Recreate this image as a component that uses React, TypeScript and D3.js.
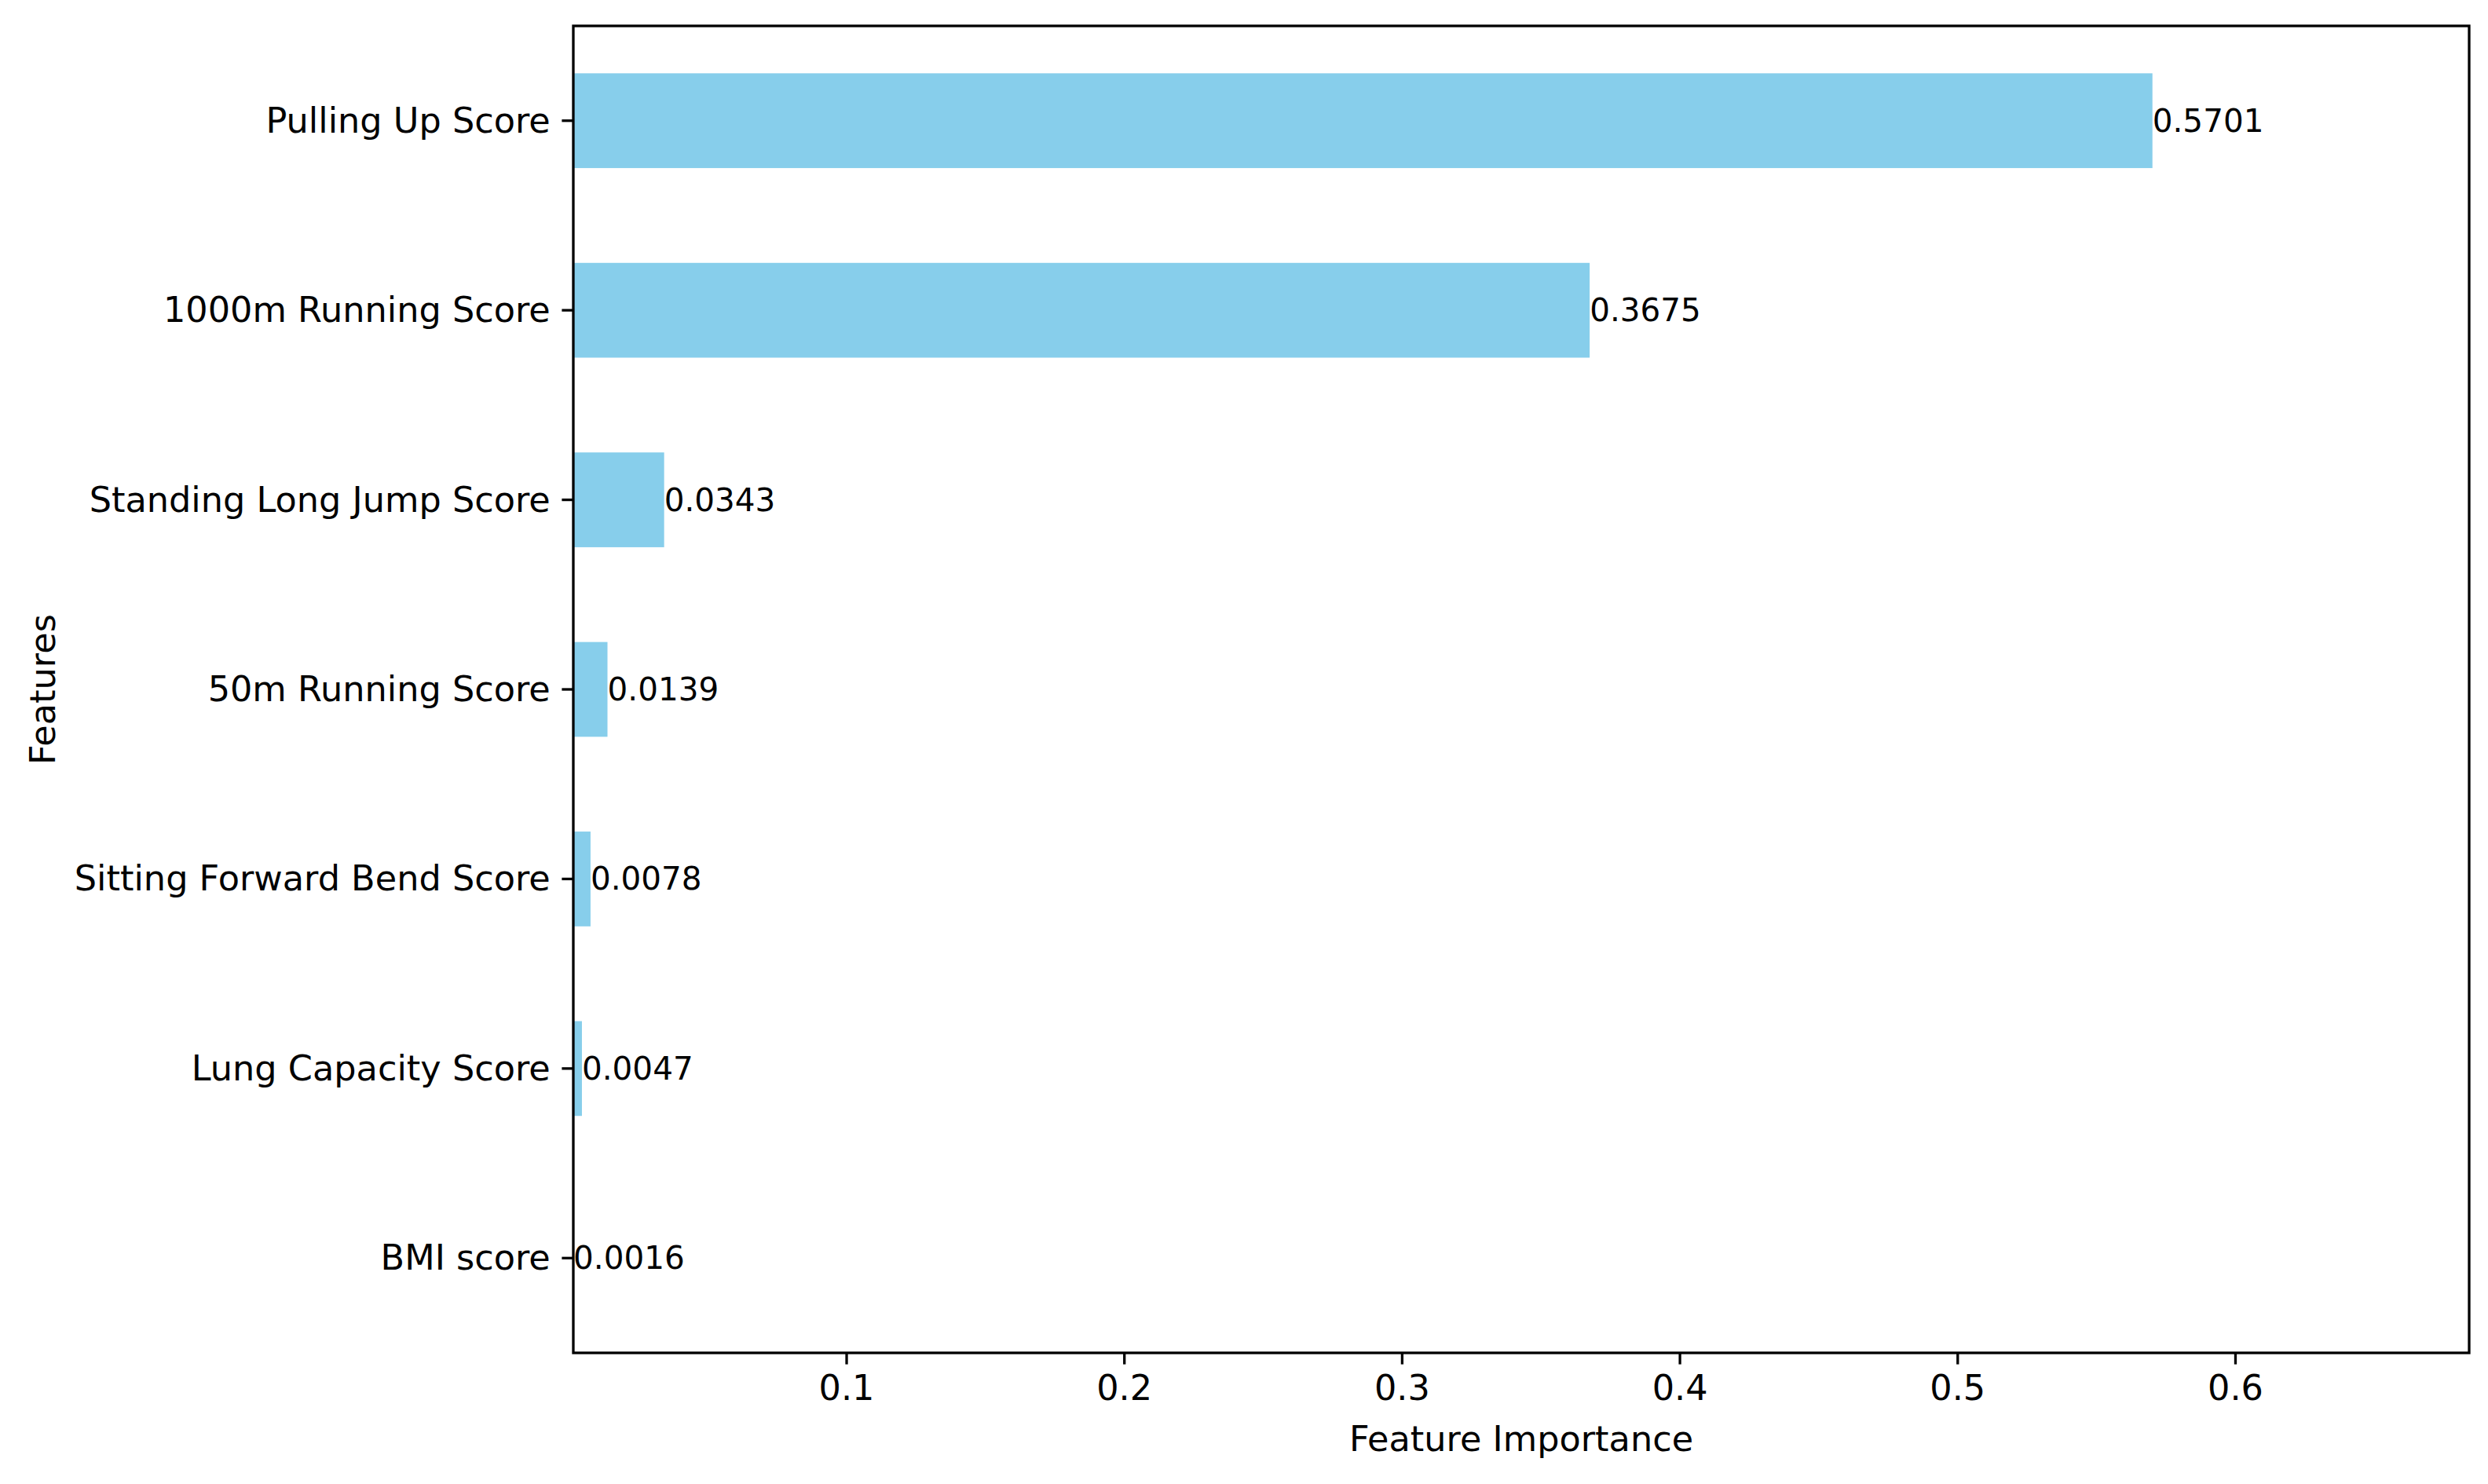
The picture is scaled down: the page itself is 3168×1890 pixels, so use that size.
import React from "react";
import * as d3 from "d3";

const features = [
  "Pulling Up Score",
  "1000m Running Score",
  "Standing Long Jump Score",
  "50m Running Score",
  "Sitting Forward Bend Score",
  "Lung Capacity Score",
  "BMI score",
];
const importances = [0.5701, 0.3675, 0.0343, 0.0139, 0.0078, 0.0047, 0.0016];
const xTickValues = [0.1, 0.2, 0.3, 0.4, 0.5, 0.6];

const W = 3168;
const H = 1890;
const M = { left: 730, right: 3144, top: 33, bottom: 1723 };
const FONT = "'DejaVu Sans', sans-serif";
const FS = 44.6;
const FS_VAL = 40.5;
const TICK = 14.6;
const LW = 3.3;

export default function App() {
  const xMin = d3.min(importances) as number;
  const xMax = (d3.max(importances) as number) * 1.2;
  const x = d3.scaleLinear().domain([xMin, xMax]).range([M.left, M.right]);
  const y = d3
    .scaleBand<string>()
    .domain(features)
    .range([M.top, M.bottom])
    .paddingInner(0.5)
    .paddingOuter(0.25);
  const bw = y.bandwidth();

  return (
    <svg
      width={W}
      height={H}
      style={{ position: "absolute", left: 0, top: 0, background: "#fff" }}
      fontFamily={FONT}
    >
      <rect x={0} y={0} width={W} height={H} fill="#fff" />
      {features.map((f, i) => {
        const v = importances[i];
        const y0 = y(f) as number;
        return (
          <rect
            key={f}
            x={x(Math.max(xMin, 0))}
            y={y0}
            width={Math.max(0, x(v) - x(Math.max(xMin, 0)))}
            height={bw}
            fill="#87CEEB"
          />
        );
      })}
      <rect
        x={M.left}
        y={M.top}
        width={M.right - M.left}
        height={M.bottom - M.top}
        fill="none"
        stroke="#000"
        strokeWidth={LW}
      />
      {features.map((f, i) => {
        const v = importances[i];
        const cy = (y(f) as number) + bw / 2;
        return (
          <text
            key={"l" + f}
            x={x(v)}
            y={cy}
            fontSize={FS_VAL}
            dominantBaseline="central"
            textAnchor="start"
            fill="#000"
          >
            {v.toFixed(4)}
          </text>
        );
      })}
      {features.map((f) => {
        const cy = (y(f) as number) + bw / 2;
        return (
          <g key={"t" + f}>
            <line x1={M.left - TICK} x2={M.left} y1={cy} y2={cy} stroke="#000" strokeWidth={LW} />
            <text
              x={M.left - TICK - 14.6}
              y={cy}
              fontSize={FS}
              textAnchor="end"
              dominantBaseline="central"
              fill="#000"
            >
              {f}
            </text>
          </g>
        );
      })}
      {xTickValues.map((t) => (
        <g key={"x" + t}>
          <line x1={x(t)} x2={x(t)} y1={M.bottom} y2={M.bottom + TICK} stroke="#000" strokeWidth={LW} />
          <text
            x={x(t)}
            y={M.bottom + TICK + 13}
            fontSize={FS}
            textAnchor="middle"
            dominantBaseline="hanging"
            fill="#000"
          >
            {d3.format(".1f")(t)}
          </text>
        </g>
      ))}
      <text
        x={(M.left + M.right) / 2}
        y={1833}
        fontSize={FS}
        textAnchor="middle"
        dominantBaseline="central"
        fill="#000"
      >
        Feature Importance
      </text>
      <text
        transform={`translate(55, ${(M.top + M.bottom) / 2}) rotate(-90)`}
        fontSize={FS}
        textAnchor="middle"
        dominantBaseline="central"
        fill="#000"
      >
        Features
      </text>
    </svg>
  );
}
